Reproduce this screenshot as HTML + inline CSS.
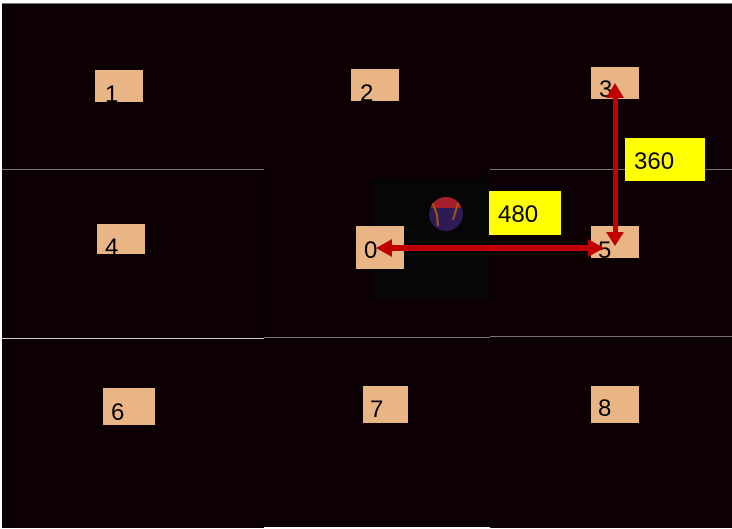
<!DOCTYPE html>
<html><head><meta charset="utf-8"><style>
html,body{margin:0;padding:0;background:#fff;width:732px;height:529px;overflow:hidden}
svg{display:block}
text{font-family:"Liberation Sans","DejaVu Sans",sans-serif;fill:#000}
</style></head><body>
<svg width="732" height="529" viewBox="0 0 732 529" xmlns="http://www.w3.org/2000/svg">
<rect x="2" y="3" width="730" height="525" fill="#0c0002"/>
<line x1="2" y1="3.5" x2="732" y2="3.5" stroke="#777" stroke-width="1"/>
<line x1="2" y1="169.5" x2="264" y2="169.5" stroke="#777" stroke-width="1"/>
<line x1="490" y1="169.5" x2="732" y2="169.5" stroke="#777" stroke-width="1"/>
<line x1="2" y1="338.5" x2="264" y2="338.5" stroke="#ccc" stroke-width="1"/>
<line x1="264" y1="337.5" x2="490" y2="337.5" stroke="#777" stroke-width="1"/>
<line x1="490" y1="336.5" x2="732" y2="336.5" stroke="#777" stroke-width="1"/>
<line x1="264" y1="170" x2="264" y2="337" stroke="#000" stroke-width="1"/>
<rect x="264" y="527" width="226" height="2" fill="#fff"/>
<rect x="371" y="178" width="118" height="121" fill="#050605"/>
<circle cx="446" cy="214" r="17" fill="#2e1a55"/>
<path d="M431 206 A17 17 0 0 1 461 206 L461 208 L431 208Z" fill="#a51c2a"/>
<path d="M433 203 L437 215 L438 226 M458 203 L453 220" stroke="#9a5a10" stroke-width="2" fill="none"/>
<g fill="#e9b584">
<rect x="95" y="70" width="48" height="32"/>
<rect x="351" y="69" width="48" height="32"/>
<rect x="591" y="67" width="48" height="32"/>
<rect x="97" y="224" width="48" height="30"/>
<rect x="356" y="226" width="48" height="43"/>
<rect x="591" y="226" width="48" height="32"/>
<rect x="103" y="388" width="52" height="37"/>
<rect x="363" y="386" width="45" height="37"/>
<rect x="591" y="386" width="48" height="37"/>
</g>
<g font-size="24">
<text x="105" y="102">1</text>
<text x="360" y="101">2</text>
<text x="599" y="97">3</text>
<text x="105" y="255">4</text>
<text x="364" y="258">0</text>
<text x="598" y="258">5</text>
<text x="111" y="420">6</text>
<text x="370" y="417">7</text>
<text x="598" y="416">8</text>
</g>
<rect x="625" y="138" width="80" height="43" fill="#ff0"/>
<text x="634" y="169" font-size="24">360</text>
<rect x="489" y="191" width="72" height="44" fill="#ff0"/>
<text x="498" y="222" font-size="24">480</text>
<g fill="#c00000" stroke="none">
<rect x="386" y="245" width="206" height="6"/>
<polygon points="376,248 392,239 392,257"/>
<polygon points="604,248 588,239 588,257"/>
<rect x="613" y="95" width="5" height="140"/>
<polygon points="615,83 606,98 624,98"/>
<polygon points="615,246 606,232 624,232"/>
</g>
</svg>
</body></html>
